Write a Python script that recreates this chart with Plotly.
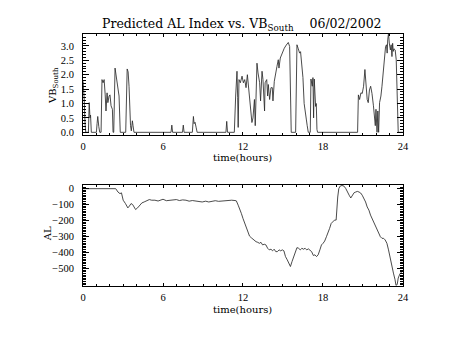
import plotly.graph_objects as go

# Southward IMF component VB_South (mV/m) vs. time of day
vb_time = [0.0, 0.08, 0.15, 0.2, 0.4, 0.46, 0.52, 0.56, 0.62, 1.0, 1.05, 1.1, 1.18, 1.25,
           1.35, 1.42, 1.5, 1.58, 1.66, 1.72, 1.8, 1.86, 1.95, 2.02, 2.1, 2.2, 2.25, 2.3,
           2.4, 2.48, 2.55, 2.62, 2.7, 2.79, 3.2, 3.31, 3.38, 3.45, 3.52, 3.56, 3.62, 3.7,
           3.75, 3.82, 6.6, 6.66, 6.72, 7.46, 7.52, 7.58, 8.2, 8.28, 8.33, 8.4, 8.48, 8.56,
           10.72, 10.78, 10.84, 11.35, 11.45, 11.55, 11.6, 11.64, 11.7, 11.8, 11.93, 12.03,
           12.13, 12.23, 12.33, 12.42, 12.52, 12.6, 12.67, 12.75, 12.86, 12.92, 12.98, 13.05,
           13.13, 13.25, 13.32, 13.36, 13.43, 13.5, 13.55, 13.62, 13.66, 13.78, 13.85, 13.9,
           14.0, 14.1, 14.2, 14.25, 14.35, 14.45, 14.55, 14.65, 14.7, 14.8, 14.9, 15.0, 15.1,
           15.25, 15.4, 15.5, 15.56, 15.62, 15.95, 16.05, 16.15, 16.25, 16.32, 16.4, 16.5,
           16.59, 16.66, 16.75, 16.82, 16.9, 17.05, 17.1, 17.2, 17.25, 17.3, 17.35, 17.45,
           17.5, 17.55, 17.6, 20.6, 20.66, 20.75, 20.85, 20.95, 21.05, 21.15, 21.22, 21.32,
           21.4, 21.49, 21.58, 21.68, 21.79, 21.86, 21.93, 21.98, 22.06, 22.12, 22.18, 22.25,
           22.35, 22.43, 22.52, 22.62, 22.7, 22.77, 22.82, 22.86, 22.92, 22.98, 23.06, 23.12,
           23.18, 23.23, 23.28, 23.33, 23.42, 23.5, 23.58, 23.65, 24.0]
vb_south = [1.77, 1.2, 0.3, 0.0, 0.0, 1.03, 0.5, 0.6, 0.0, 0.0, 0.3, 0.55, 0.2, 0.0,
            0.0, 1.83, 1.72, 1.83, 1.3, 0.74, 1.37, 1.03, 1.26, 1.3, 0.92, 0.8, 0.0, 0.0,
            2.23, 1.95, 1.72, 1.66, 1.26, 0.0, 0.0, 2.2, 2.1, 1.6, 0.5, 0.23, 0.05, 0.4,
            0.23, 0.0, 0.0, 0.25, 0.0, 0.0, 0.25, 0.0, 0.0, 0.55, 0.3, 0.35, 0.18, 0.0,
            0.0, 0.38, 0.0, 0.0, 1.26, 2.12, 1.2, 0.17, 1.83, 1.72, 1.95, 1.72,
            1.83, 1.55, 2.0, 1.55, 0.92, 0.63, 0.34, 0.5, 1.14, 0.23, 1.77, 2.4,
            2.06, 1.72, 1.09, 1.6, 2.12, 1.83, 1.37, 0.74, 1.72, 1.83, 1.26, 1.66,
            1.14, 1.55, 1.55, 1.09, 1.77, 2.12, 2.29, 2.52, 2.23, 2.58, 2.69, 2.86, 2.92,
            3.03, 3.12, 2.98, 1.5, 0.0, 0.0, 3.04, 2.9, 2.75, 2.8, 2.35, 1.9,
            1.0, 0.68, 0.46, 0.23, 0.0, 0.0, 1.85, 1.6, 1.9, 0.5, 1.85, 0.9,
            1.0, 0.1, 0.0, 0.0, 1.3, 1.14, 1.37, 1.35, 1.6, 2.18, 1.6, 1.14,
            1.03, 1.47, 1.6, 1.35, 0.92, 0.57, 0.23, 0.8, 0.0, 0.74, 0.0, 1.03,
            1.26, 1.6, 2.12, 2.52, 2.98, 3.04, 2.75, 3.21, 3.44, 3.1, 2.86, 3.04,
            2.63, 3.09, 2.81, 2.9, 2.86, 2.52, 1.2, 0.0, 0.0]

# Predicted AL index (nT) vs. time of day
al_time = [0.0, 2.45, 2.62, 2.77, 2.88, 3.01, 3.18, 3.36, 3.48, 3.6, 3.72, 3.82, 3.94, 4.09,
           4.24, 4.41, 4.58, 4.78, 4.97, 5.15, 5.39, 5.63, 5.8, 6.0, 6.25, 6.5, 6.74, 7.0,
           7.23, 7.47, 7.72, 7.96, 8.2, 8.45, 8.7, 8.94, 9.2, 9.43, 9.68, 9.92, 10.17, 10.41,
           10.66, 10.9, 11.15, 11.4, 11.5, 11.64, 11.76, 11.88, 12.0, 12.13, 12.25, 12.37,
           12.49, 12.62, 12.74, 12.86, 12.98, 13.11, 13.23, 13.35, 13.47, 13.6, 13.72, 13.85,
           13.97, 14.1, 14.22, 14.34, 14.46, 14.58, 14.71, 14.83, 14.95, 15.07, 15.19, 15.32,
           15.44, 15.56, 15.68, 15.81, 15.93, 16.05, 16.17, 16.3, 16.42, 16.54, 16.66, 16.78,
           16.91, 17.03, 17.15, 17.28, 17.4, 17.52, 17.64, 17.77, 17.89, 18.01, 18.13, 18.26,
           18.38, 18.5, 18.62, 18.75, 18.87, 18.99, 19.04, 19.11, 19.19, 19.29, 19.43, 19.58,
           19.72, 19.85, 19.97, 20.09, 20.22, 20.34, 20.46, 20.58, 20.71, 20.83, 20.95, 21.08,
           21.2, 21.32, 21.45, 21.57, 21.69, 21.82, 21.94, 22.06, 22.18, 22.31, 22.43, 22.55,
           22.67, 22.8, 22.92, 23.04, 23.16, 23.29, 23.41, 23.48, 23.57, 23.65, 23.77, 23.9,
           24.0]
al_index = [0, 0, -21, -31, -26, -72, -93, -120, -108, -93, -99, -110, -130, -120,
            -103, -89, -83, -77, -68, -72, -72, -77, -72, -66, -75, -72, -72, -68,
            -74, -70, -72, -78, -74, -76, -78, -83, -78, -83, -79, -75, -79, -77,
            -74, -74, -72, -74, -76, -103, -124, -155, -186, -217, -248, -273,
            -296, -306, -316, -320, -331, -335, -341, -335, -351, -347, -351, -372,
            -382, -378, -388, -378, -393, -393, -382, -388, -382, -388, -424, -444,
            -465, -486, -455, -424, -393, -368, -372, -382, -372, -378, -372, -382,
            -376, -388, -393, -417, -413, -424, -413, -382, -351, -341, -327, -300,
            -279, -248, -217, -207, -196, -196, -124, -52, 0, 16, 20, 16,
            0, -17, -41, -58, -37, -25, -21, -17, -21, -27, -41, -62,
            -83, -114, -134, -165, -186, -211, -238, -258, -279, -300, -310, -310,
            -320, -341, -382, -434, -486, -527, -568, -603, -599, -558, -533, -520,
            -510]

hour_ticks = [0, 6, 12, 18, 24]
hour_labels = ["0", "6", "12", "18", "24"]
vb_ticks = [0.0, 0.5, 1.0, 1.5, 2.0, 2.5, 3.0]
vb_labels = ["0.0", "0.5", "1.0", "1.5", "2.0", "2.5", "3.0"]
al_ticks = [0, -100, -200, -300, -400, -500]
al_labels = ["0", "\u2212100", "\u2212200", "\u2212300", "\u2212400", "\u2212500"]

TEXT_FONT = "DejaVu Serif"
TICK_FONT = "Liberation Serif"
FS = 10
W, H = 453, 340
LINE = dict(color="#2a2a2a", width=0.85)

fig = go.Figure()
fig.add_trace(go.Scatter(x=vb_time, y=vb_south, mode="lines", line=LINE,
                         xaxis="x", yaxis="y"))
fig.add_trace(go.Scatter(x=al_time, y=al_index, mode="lines", line=LINE,
                         xaxis="x2", yaxis="y2"))

xd = [81.7 / W, 408 / W]


def xaxis_style(anchor):
    return dict(domain=xd, anchor=anchor, range=[0, 24], tickvals=hour_ticks,
                ticktext=hour_labels, ticks="inside", ticklen=3, tickcolor="black",
                showline=True, linecolor="black", linewidth=1, mirror="allticks",
                showgrid=False, zeroline=False, ticklabelstandoff=1,
                minor=dict(dtick=1, ticks="inside", ticklen=2, tickcolor="black"),
                tickfont=dict(family=TICK_FONT, size=10.5, color="black"))


def yaxis_style(anchor, dom, rng, tv, tt, mdt):
    return dict(domain=dom, anchor=anchor, range=rng, tickvals=tv, ticktext=tt,
                ticks="inside", ticklen=6, tickcolor="black",
                showline=True, linecolor="black", linewidth=1, mirror="allticks",
                showgrid=False, zeroline=False, ticklabelstandoff=6,
                minor=dict(dtick=mdt, ticks="inside", ticklen=3, tickcolor="black"),
                tickfont=dict(family=TICK_FONT, size=10.5, color="black"))


fig.update_layout(
    width=W, height=H, margin=dict(l=0, r=0, t=0, b=0),
    paper_bgcolor="white", plot_bgcolor="white", showlegend=False,
    xaxis=xaxis_style("y"),
    yaxis=yaxis_style("x", [(H - 135.5) / H, (H - 33.5) / H], [-0.09, 3.41],
                      vb_ticks, vb_labels, 0.1),
    xaxis2=xaxis_style("y2"),
    yaxis2=yaxis_style("x2", [(H - 288.3) / H, (H - 185.7) / H], [-607, 26],
                       al_ticks, al_labels, 10),
)

xc = (81.7 + 408) / 2 / W
notes = [
    dict(text="Predicted AL Index vs. VB<sub>South</sub>    06/02/2002",
         x=243.5 / W, y=1 - 23.5 / H, size=12.5, angle=0),
    dict(text="time(hours)", x=xc, y=1 - 158.5 / H, size=FS, angle=0),
    dict(text="time(hours)", x=xc, y=1 - 312 / H, size=FS, angle=0),
    dict(text="VB<sub>South</sub>", x=51 / W, y=1 - 85 / H, size=FS, angle=-90),
    dict(text="AL", x=45 / W, y=1 - 236 / H, size=FS, angle=-90),
]
for n in notes:
    fig.add_annotation(text=n["text"], x=n["x"], y=n["y"], xref="paper", yref="paper",
                       xanchor="center", yanchor="middle", showarrow=False,
                       textangle=n["angle"],
                       font=dict(family=TEXT_FONT, size=n["size"], color="black"))

fig.write_html("out.html")
